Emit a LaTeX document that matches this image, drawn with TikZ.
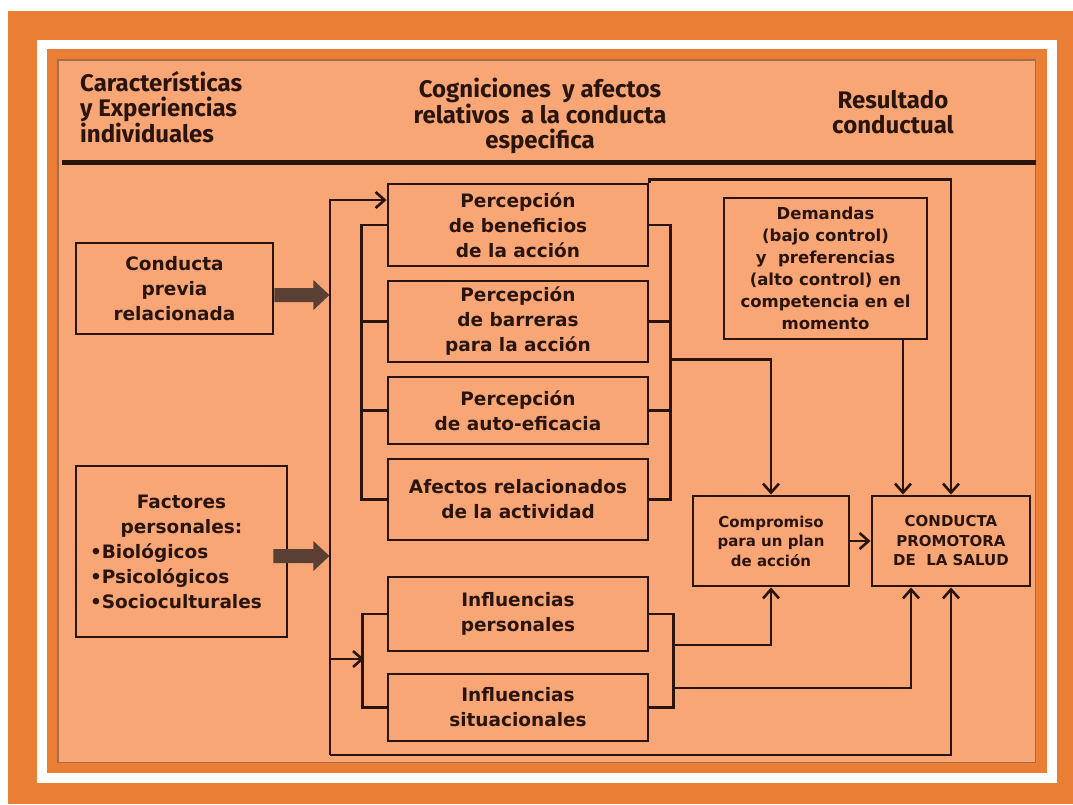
\documentclass[tikz,border=0pt]{standalone}
\usepackage{fontspec}
\setmainfont{DejaVu Sans}
\newfontfamily\hfont{Fira Sans}
\usetikzlibrary{arrows.meta,calc}
\definecolor{outer}{HTML}{EA7E34}
\definecolor{panel}{HTML}{F9A676}
\definecolor{ink}{HTML}{2A150E}
\definecolor{blk}{HTML}{5A4034}
\begin{document}
\begin{tikzpicture}[x=1pt,y=-1pt,
  box/.style={draw=ink, line width=2.9pt, fill=panel, align=center, text=ink,
    font=\bfseries\fontsize{18.5}{25}\selectfont, inner sep=0pt},
  smallbox/.style={box, font=\bfseries\fontsize{15}{19.5}\selectfont},
  ln/.style={draw=ink, line width=2.9pt},
  arr/.style={ln, -{Straight Barb[length=9pt,width=16pt,line width=2.6pt]}},
  hdr/.style={text=ink, font=\hfont\bfseries\fontsize{24}{25.5}\selectfont, inner sep=0pt},
  blockarrow/.style={fill=blk}]
\useasboundingbox (0,0) rectangle (1073,804);
% frame
\fill[white] (0,0) rectangle (1073,804);
\fill[outer] (8,11) rectangle (1073,804);
\fill[white] (37,40) rectangle (1057,783);
\fill[outer] (47,49) rectangle (1047,773);
\fill[panel, draw=panel!65!black, line width=1.5pt] (57.75,59.75) rectangle (1035.25,762.25);
% headers
\node[hdr, align=left, anchor=west] (h1) at (80,107) {Características\\y Experiencias\\individuales};
\node[hdr, align=center] (h2) at (540,116) {Cogniciones~ y afectos\\relativos~ a la conducta\\especifica};
\node[hdr, align=center] (h3) at (893,112) {Resultado\\conductual};
\draw[ink, line width=5pt] (62,162) -- (1036,162);
% left boxes
\node[box, minimum width=197, minimum height=91] (prev) at (174.5,288.5) {Conducta\\previa\\relacionada};
\node[box, minimum width=211, minimum height=171, text width=183, align=left] (fac) at (181.5,551.5)
  {{\centering Factores\\personales:\par}\raggedright •Biológicos\\•Psicológicos\\•Socioculturales};
% middle boxes
\node[box, minimum width=260, minimum height=82] (bene) at (518,225) {Percepción\\de beneficios\\de la acción};
\node[box, minimum width=260, minimum height=81] (bar) at (518,321.5) {Percepción\\de barreras\\para la acción};
\node[box, minimum width=260, minimum height=67] (auto) at (518,410.5) {Percepción\\de auto-eficacia};
\node[box, minimum width=260, minimum height=81] (afe) at (518,499.5) {Afectos relacionados\\de la actividad};
\node[box, minimum width=260, minimum height=74] (ip) at (518,614) {Influencias\\personales};
\node[box, minimum width=260, minimum height=67] (is) at (518,707.5) {Influencias\\situacionales};
% right boxes
\node[box, minimum width=203, minimum height=141, font=\bfseries\fontsize{16.5}{22}\selectfont] (dem) at (825.5,268.5)
  {Demandas\\(bajo control)\\y~ preferencias\\(alto control) en\\competencia en el\\momento};
\node[smallbox, minimum width=156, minimum height=90] (comp) at (771,541) {Compromiso\\para un plan\\de acción};
\node[smallbox, minimum width=158, minimum height=90] (cond) at (951,541) {CONDUCTA\\PROMOTORA\\DE~ LA SALUD};
% block arrows
\fill[blockarrow] ([yshift=-6.5pt]prev.east) ++(0,-7) -- ++(39,0) -- ++(0,-8) -- ++(16,15) -- ++(-16,15) -- ++(0,-8) -- ++(-39,0) -- cycle;
\fill[blockarrow] ([xshift=-15pt,yshift=-4.5pt]fac.east) ++(0,-7) -- ++(40,0) -- ++(0,-8) -- ++(16,15) -- ++(-16,15) -- ++(0,-8) -- ++(-40,0) -- cycle;
% main trunk
\coordinate (vt) at (330,200);
\coordinate (vb) at (330,755);
\coordinate (vi) at (330,659);
\coordinate (lb) at (364,659);
\draw[arr] (vb) -- (vt) -- (vt -| bene.west);
\draw[arr] (vb) -| (cond.south);
\draw[arr] (vi) -- (lb);
% brackets of the cognitions
\draw[ln] (bene.west) -- ++(-25,0) |- (afe.west);
\draw[ln] (bar.west) -- ++(-25,0);
\draw[ln] (auto.west) -- ++(-25,0);
\draw[ln] (bene.east) -- ++(21,0) |- (afe.east);
\draw[ln] (bar.east) -- ++(21,0);
\draw[ln] (auto.east) -- ++(21,0);
\draw[arr] ($(bar.south east)+(21,-4)$) -| (comp.north);
% brackets of the influences
\draw[ln] (ip.west) -- ++(-24,0) |- (is.west);
\draw[ln] (ip.east) -- ++(24,0) |- (is.east);
\draw[arr] ($(ip.east)+(24,31)$) -| (comp.south);
\draw[arr] ($(is.east)+(24,-19.5)$) -| ([xshift=-40pt]cond.south);
% top connectors
\draw[arr] (bene.north east) -- ++(0,-3) -| (cond.north);
\draw[arr] ([xshift=77.5pt]dem.south) -- ([xshift=-48pt]cond.north);
\draw[arr] (comp) -- (cond);
\end{tikzpicture}
\end{document}
